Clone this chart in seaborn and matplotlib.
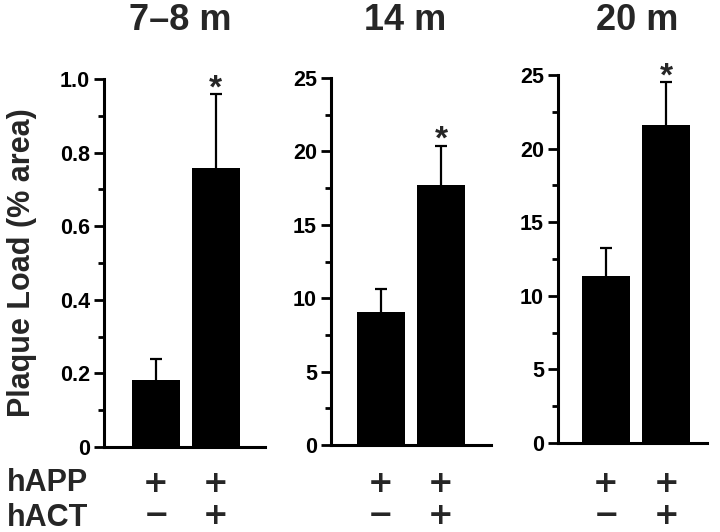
import pandas as pd
import seaborn as sns
import matplotlib.pyplot as plt
from matplotlib.ticker import MultipleLocator, FuncFormatter
from matplotlib.transforms import blended_transform_factory

# values (mean and upper SEM)
ages = ["7\u20138 m", "14 m", "20 m"]
groups = ["hAPP", "hAPP/hACT"]
load_7_8m = [0.182, 0.758]
sem_7_8m = [0.057, 0.200]
load_14m = [9.06, 17.7]
sem_14m = [1.55, 2.70]
load_20m = [11.35, 21.6]
sem_20m = [1.90, 2.90]
happ_signs = ["+", "+"]
hact_signs = ["\u2212", "+"]


def fmt_small(v, pos):
    return "0" if v == 0 else "%.1f" % v


def fmt_int(v, pos):
    return "%d" % v


def draw_panel(ax, values, errors, ymax, major, minor, fmt, xlim):
    df = pd.DataFrame({"group": groups, "load": values})
    sns.barplot(data=df, x="group", y="load", color="black", width=0.8,
                errorbar=None, saturation=1, linewidth=0, ax=ax)
    eb = ax.errorbar([0, 1], values, yerr=[[0, 0], errors], fmt="none",
                     ecolor="black", elinewidth=1.6, capsize=4, capthick=1.6)
    # only the upper cap is shown
    eb[1][0].set_visible(False)
    # asterisk over the hAPP/hACT bar
    ax.annotate("*", (1, values[1] + errors[1]), xytext=(0, -2),
                textcoords="offset points", ha="center", va="baseline",
                fontsize=24, fontweight="bold")
    ax.set_ylim(0, ymax)
    ax.set_xlim(*xlim)
    ax.yaxis.set_major_locator(MultipleLocator(major))
    ax.yaxis.set_minor_locator(MultipleLocator(minor))
    ax.yaxis.set_major_formatter(FuncFormatter(fmt))
    ax.set_xlabel("")
    ax.set_ylabel("")
    ax.tick_params(axis="x", length=0, labelbottom=False)
    ax.tick_params(axis="y", which="major", length=7, width=2, pad=3,
                   labelsize=15.5)
    ax.tick_params(axis="y", which="minor", length=4, width=2)
    for lab in ax.get_yticklabels():
        lab.set_fontweight("bold")
    sns.despine(ax=ax)
    ax.spines["left"].set_linewidth(2.2)
    ax.spines["bottom"].set_linewidth(2.2)


def main():
    sns.set_style("ticks")
    plt.rcParams["font.family"] = ["Liberation Sans", "DejaVu Sans"]
    plt.rcParams["axes.edgecolor"] = "black"
    plt.rcParams["ytick.color"] = "black"

    fig = plt.figure(figsize=(7.2, 5.32), dpi=100)
    ax1 = fig.add_axes([0.1444, 0.1598, 0.2236, 0.6917])
    ax2 = fig.add_axes([0.4597, 0.1635, 0.2222, 0.6898])
    ax3 = fig.add_axes([0.7750, 0.1673, 0.2069, 0.6917])

    draw_panel(ax1, load_7_8m, sem_7_8m, 1.0, 0.2, 0.1, fmt_small, (-0.87, 1.82))
    draw_panel(ax2, load_14m, sem_14m, 25, 5, 2.5, fmt_int, (-0.83, 1.83))
    draw_panel(ax3, load_20m, sem_20m, 25, 5, 2.5, fmt_int, (-0.80, 1.68))

    # titles
    for x, t in zip([180 / 720, 405 / 720, 637 / 720], ages):
        fig.text(x, 1 - 20 / 532, t, ha="center", va="center",
                 fontsize=26, fontweight="bold")

    fig.text(22 / 720, 1 - 263 / 532, "Plaque Load (% area)", rotation=90,
             ha="center", va="center", fontsize=22, fontweight="bold")

    # genotype rows
    fig.text(7 / 720, 1 - 491 / 532, "hAPP", ha="left", va="baseline",
             fontsize=22, fontweight="bold")
    fig.text(7 / 720, 1 - 526 / 532, "hACT", ha="left", va="baseline",
             fontsize=22, fontweight="bold")
    for ax in [ax1, ax2, ax3]:
        tr = blended_transform_factory(ax.transData, fig.transFigure)
        for x in range(2):
            ax.text(x, 1 - 481 / 532, happ_signs[x], transform=tr, ha="center",
                    va="center_baseline", fontsize=22, fontweight="bold",
                    family="DejaVu Sans")
            ax.text(x, 1 - 513 / 532, hact_signs[x], transform=tr, ha="center",
                    va="center_baseline", fontsize=22, fontweight="bold",
                    family="DejaVu Sans")

    fig.savefig("out.png", dpi=100)


if __name__ == '__main__':
    main()
